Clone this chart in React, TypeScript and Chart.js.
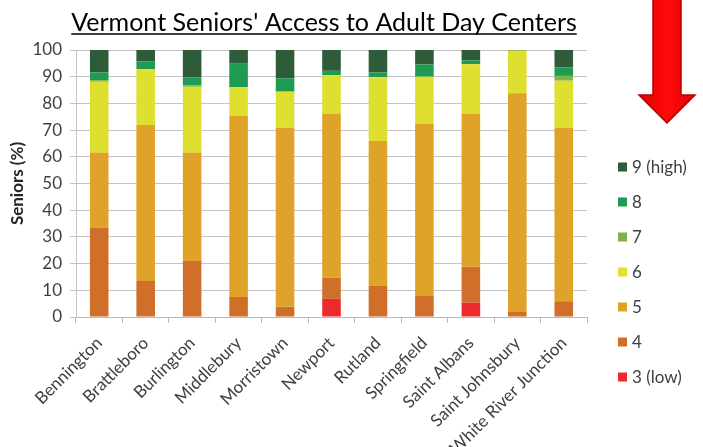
import React, { useEffect, useRef } from "react";
import { Chart, registerables } from "chart.js";

Chart.register(...registerables);

const titleText = "Vermont Seniors' Access to Adult Day Centers";
const yAxisTitle = "Seniors (%)";

const categories = [
  "Bennington",
  "Brattleboro",
  "Burlington",
  "Middlebury",
  "Morristown",
  "Newport",
  "Rutland",
  "Springfield",
  "Saint Albans",
  "Saint Johnsbury",
  "White River Junction",
];

const seriesLabels = ["3 (low)", "4", "5", "6", "7", "8", "9 (high)"];
const seriesColors = ["#ec2a2c", "#cf6f2a", "#dea328", "#dfdf30", "#7bb24c", "#1f9a52", "#2e5b38"];

const level3 = [0, 0, 0, 0, 0, 6.8, 0, 0, 5.4, 0, 0];
const level4 = [33.4, 13.5, 21, 7.5, 3.8, 7.9, 11.8, 8, 13.4, 1.9, 5.9];
const level5 = [28.2, 58.4, 40.6, 67.8, 67.1, 61.4, 54.1, 64.5, 57.3, 81.9, 65.1];
const level6 = [26.5, 20.9, 24.6, 10.8, 13.5, 14.5, 23.9, 17.5, 18.6, 16, 17.5];
const level7 = [0.6, 0, 0.5, 0, 0, 0, 0, 0, 0, 0, 1.8];
const level8 = [2.9, 2.9, 3, 9, 5, 1.6, 1.8, 4.6, 1.4, 0, 3.2];
const level9 = [8.4, 4.4, 10.3, 5, 10.6, 7.8, 8.5, 5.4, 4, 0.3, 6.5];

const seriesValues = [level3, level4, level5, level6, level7, level8, level9];

const FONT = "Lato, 'Open Sans', sans-serif";

const decorPlugin = {
  id: "decor",
  afterDraw(chart: any) {
    const ctx = chart.ctx as CanvasRenderingContext2D;
    ctx.save();
    // Title with underline
    ctx.font = `25px ${FONT}`;
    ctx.fillStyle = "#000000";
    ctx.textAlign = "center";
    ctx.textBaseline = "alphabetic";
    const tx = 324;
    const ty = 31;
    ctx.fillText(titleText, tx, ty);
    const w = ctx.measureText(titleText).width;
    ctx.strokeStyle = "#000000";
    ctx.lineWidth = 1.5;
    ctx.beginPath();
    ctx.moveTo(tx - w / 2, ty + 3);
    ctx.lineTo(tx + w / 2, ty + 3);
    ctx.stroke();

    // Legend (reverse order, high at top)
    const ds = chart.data.datasets;
    ctx.font = `17px ${FONT}`;
    ctx.textAlign = "left";
    ctx.textBaseline = "middle";
    for (let i = 0; i < ds.length; i++) {
      const d = ds[ds.length - 1 - i];
      const y = 167 + i * 35;
      ctx.fillStyle = d.backgroundColor;
      ctx.fillRect(618, y - 4.5, 9, 9);
      ctx.fillStyle = "#404040";
      ctx.fillText(d.label, 632, y + 1);
    }

    // Red arrow
    const grad = ctx.createLinearGradient(639, 0, 695, 0);
    grad.addColorStop(0, "#e00000");
    grad.addColorStop(0.5, "#ff0a0a");
    grad.addColorStop(1, "#e00000");
    ctx.fillStyle = grad;
    ctx.strokeStyle = "#b40000";
    ctx.lineWidth = 1.5;
    ctx.beginPath();
    ctx.moveTo(653, -2);
    ctx.lineTo(681, -2);
    ctx.lineTo(681, 95);
    ctx.lineTo(695, 95);
    ctx.lineTo(667, 123);
    ctx.lineTo(639, 95);
    ctx.lineTo(653, 95);
    ctx.closePath();
    ctx.fill();
    ctx.stroke();
    ctx.restore();
  },
};

export default function App() {
  const ref = useRef<HTMLCanvasElement>(null);

  useEffect(() => {
    if (!ref.current) return;
    const chart = new Chart(ref.current, {
      type: "bar",
      data: {
        labels: categories,
        datasets: seriesLabels.map((label, i) => ({
          label,
          data: seriesValues[i],
          backgroundColor: seriesColors[i],
          borderWidth: 0,
          categoryPercentage: 1,
          barPercentage: 0.4,
        })),
      },
      options: {
        responsive: false,
        maintainAspectRatio: false,
        animation: false,
        layout: { padding: { top: 50, right: 116, left: 0, bottom: 0 } },
        plugins: {
          legend: { display: false },
          title: { display: false },
          tooltip: { enabled: false },
        },
        scales: {
          x: {
            stacked: true,
            afterFit: (s: any) => {
              s.height = 130;
            },
            grid: {
              display: true,
              drawOnChartArea: false,
              drawTicks: true,
              tickLength: 6,
              offset: true,
              color: "#b8b8b8",
            },
            border: { display: true, color: "#b8b8b8" },
            ticks: {
              maxRotation: 45,
              minRotation: 45,
              autoSkip: false,
              padding: 10,
              color: "#404040",
              font: { family: FONT, size: 17 },
            },
          },
          y: {
            stacked: true,
            min: 0,
            max: 100,
            afterFit: (s: any) => {
              s.width = 76;
            },
            grid: {
              color: "#c4c4c4",
              tickLength: 6,
              drawTicks: true,
            },
            border: { display: true, color: "#c4c4c4" },
            ticks: {
              stepSize: 10,
              padding: 8,
              color: "#404040",
              font: { family: FONT, size: 17 },
            },
            title: {
              display: true,
              text: yAxisTitle,
              color: "#262626",
              font: { family: FONT, size: 17, weight: "bold" },
              padding: { top: 7, bottom: 0 },
            },
          },
        },
      },
      plugins: [decorPlugin],
    });
    return () => chart.destroy();
  }, []);

  return (
    <div style={{ position: "absolute", left: 0, top: 0, width: 703, height: 447, background: "#ffffff" }}>
      <canvas ref={ref} width={703} height={447} style={{ display: "block" }} />
    </div>
  );
}
